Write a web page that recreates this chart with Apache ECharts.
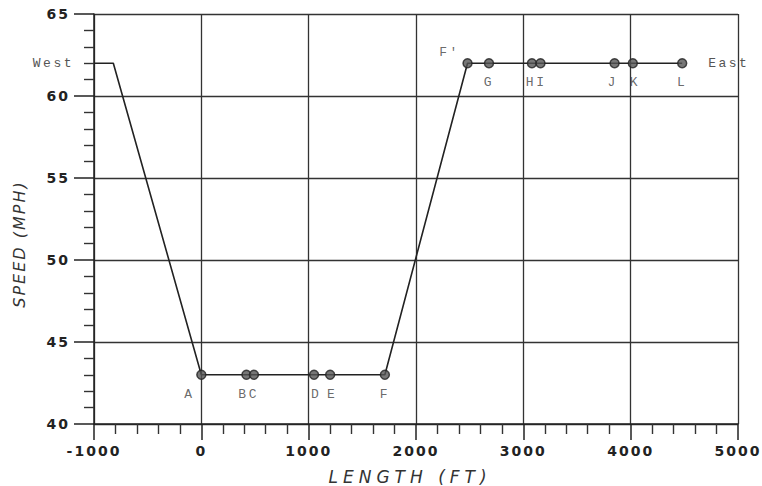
<!DOCTYPE html>
<html>
<head>
<meta charset="utf-8">
<script src="https://cdn.jsdelivr.net/npm/echarts@6/dist/echarts.min.js"></script>
<style>
html,body{margin:0;padding:0;background:#fff}
#c{width:762px;height:486px}
#c svg text[style*="bold"]{letter-spacing:2px}
#c svg text[style*="Liberation"]{letter-spacing:2.5px}
#c svg text[style*="17px"]{letter-spacing:5px}
#c svg text[style*="16px"]{letter-spacing:2px}
</style>
</head>
<body>
<div id="c"></div>
<script>
// Speed profile (vertex points of the line)
var profileX = [-1000, -820, 0, 1710, 2480, 4480];
var profileY = [62, 62, 43, 43, 62, 62];
var profileEndNames = ['West', '', '', '', '', 'East'];

// Stations (markers)
var stationNames = ['A', 'B', 'C', 'D', 'E', 'F', "F'", 'G', 'H', 'I', 'J', 'K', 'L'];
var stationX = [0, 420, 490, 1050, 1200, 1710, 2480, 2680, 3080, 3160, 3850, 4020, 4480];
var stationY = [43, 43, 43, 43, 43, 43, 62, 62, 62, 62, 62, 62, 62];

// Axis settings
var xMin = -1000, xMax = 5000, xStep = 1000;
var yMin = 40, yMax = 65, yStep = 5;
var xTitle = 'LENGTH (FT)';
var yTitle = 'SPEED (MPH)';

var labelOffsets = {
  'A': [-12, 0], 'B': [-3, 0], 'C': [0, 0], 'D': [2, 0], 'E': [2, 0], 'F': [0, 0],
  "F'": [-18, -30], 'G': [0, 0], 'H': [-1, 0], 'I': [1, 0], 'J': [-2, 0], 'K': [2, 0], 'L': [0, 0]
};

var profileData = profileX.map(function (x, i) {
  var d = { value: [x, profileY[i]] };
  if (profileEndNames[i]) {
    d.label = {
      show: true, formatter: profileEndNames[i],
      position: i === 0 ? 'left' : 'right', distance: i === 0 ? 20 : 26,
      fontFamily: 'Liberation Mono', fontSize: 13, color: '#555'
    };
  }
  return d;
});

var stationData = stationNames.map(function (n, i) {
  return {
    name: n, value: [stationX[i], stationY[i]],
    label: { offset: labelOffsets[n] || [0, 0] }
  };
});

var chart = echarts.init(document.getElementById('c'), null, { renderer: 'svg' });
chart.setOption({
  backgroundColor: '#ffffff',
  animation: false,
  grid: { left: 94, right: 24, top: 14, bottom: 62, show: false },
  xAxis: {
    type: 'value', min: xMin, max: xMax, interval: xStep,
    axisLine: { show: true, onZero: false, lineStyle: { color: '#222', width: 1.5 } },
    axisTick: { show: true, inside: false, length: 16, lineStyle: { color: '#222', width: 1.5 } },
    minorTick: { show: true, splitNumber: 5, length: 10, lineStyle: { color: '#333', width: 1.4 } },
    splitLine: { show: true, lineStyle: { color: '#333', width: 1.3 } },
    axisLabel: { margin: 20, fontFamily: 'DejaVu Sans', fontWeight: 'bold', fontSize: 14, color: '#222',
      formatter: function (v) { return String(v); } }
  },
  yAxis: {
    type: 'value', min: yMin, max: yMax, interval: yStep,
    axisLine: { show: true, onZero: false, lineStyle: { color: '#222', width: 1.5 } },
    axisTick: { show: true, inside: false, length: 20, lineStyle: { color: '#222', width: 1.5 } },
    minorTick: { show: true, splitNumber: 5, length: 10, lineStyle: { color: '#333', width: 1.4 } },
    splitLine: { show: true, lineStyle: { color: '#333', width: 1.3 } },
    axisLabel: { margin: 24, fontFamily: 'DejaVu Sans', fontWeight: 'bold', fontSize: 14, color: '#222',
      formatter: function (v) { return String(v); } }
  },
  graphic: [
    { type: 'text', x: 410, y: 477, style: { text: xTitle, font: 'italic 17px "DejaVu Sans"', fill: '#333', align: 'center', verticalAlign: 'middle' } },
    { type: 'text', x: 19, y: 244, rotation: Math.PI / 2, style: { text: yTitle, font: 'italic 16px "DejaVu Sans"', fill: '#333', align: 'center', verticalAlign: 'middle' } }
  ],
  series: [
    {
      type: 'line', data: profileData, symbol: 'circle', symbolSize: 0, showSymbol: true,
      lineStyle: { color: '#222', width: 1.6 }, z: 3
    },
    {
      type: 'scatter', data: stationData, symbol: 'circle', symbolSize: 9,
      itemStyle: { color: '#555', borderColor: '#222', borderWidth: 1.5 },
      label: {
        show: true, position: 'bottom', distance: 8, formatter: '{b}',
        fontFamily: 'Liberation Mono', fontSize: 13, color: '#444'
      },
      z: 4
    }
  ]
});
</script>
</body>
</html>
